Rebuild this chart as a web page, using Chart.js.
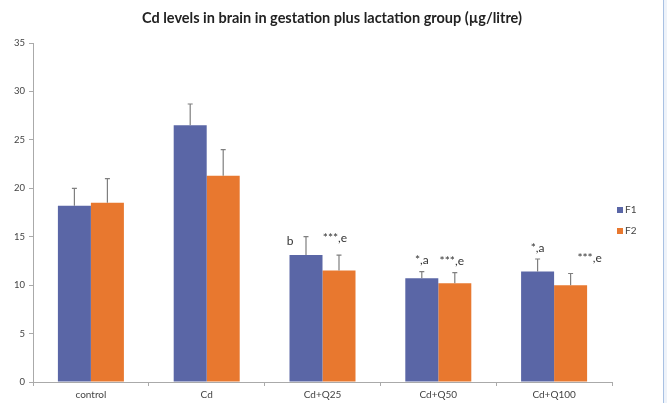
<!DOCTYPE html>
<html>
<head>
<meta charset="utf-8">
<script src="https://cdn.jsdelivr.net/npm/chart.js@4"></script>
<style>
  html, body { margin: 0; padding: 0; background: #eef3fa; }
  #wrap { width: 663px; height: 403px; background: #fff; border-right: 1px solid #a9c1e3; }
  canvas { display: block; }
</style>
</head>
<body>
<div id="wrap"><canvas id="grafico" width="663" height="403"></canvas></div>
<script>
const categories = ['control', 'Cd', 'Cd+Q25', 'Cd+Q50', 'Cd+Q100']
const f1Values = [18.2, 26.5, 13.1, 10.7, 11.4]
const f1Errors = [1.8, 2.2, 1.9, 0.7, 1.3]
const f2Values = [18.5, 21.3, 11.5, 10.2, 10.0]
const f2Errors = [2.5, 2.7, 1.6, 1.1, 1.2]
const f1Marks = ['', '', 'b', '*,a', '*,a']
const f2Marks = ['', '', '***,e', '***,e', '***,e']
const yMax = 35
const yStep = 5
const chartTitle = 'Cd levels in brain in gestation plus lactation group (µg/litre)'

const FONT = 'Lato, "Open Sans", sans-serif'
const blue = '#5a66a6'
const orange = '#e8782f'

// little nudges for the significance letters (dx, dy in px)
const markNudge = {
    '0-2': [-16, 15], '1-2': [-4, -6],
    '0-3': [0, 0], '1-3': [-3, 0],
    '0-4': [0, 0], '1-4': [19, -4]
}

const extras = {
    id: 'extras',
    afterDatasetsDraw(chart) {
        const ctx = chart.ctx
        const y = chart.scales.y
        const errs = [f1Errors, f2Errors]
        const marks = [f1Marks, f2Marks]
        ctx.save()
        chart.data.datasets.forEach((ds, di) => {
            const meta = chart.getDatasetMeta(di)
            meta.data.forEach((bar, i) => {
                const top = y.getPixelForValue(ds.data[i] + errs[di][i])
                const base = y.getPixelForValue(ds.data[i])
                ctx.strokeStyle = '#7f7f7f'
                ctx.lineWidth = 1.2
                ctx.beginPath()
                ctx.moveTo(bar.x, base)
                ctx.lineTo(bar.x, top)
                ctx.moveTo(bar.x - 2.5, top)
                ctx.lineTo(bar.x + 2.5, top)
                ctx.stroke()
                const txt = marks[di][i]
                if (txt) {
                    const n = markNudge[di + '-' + i] || [0, 0]
                    ctx.fillStyle = '#333'
                    ctx.font = '12px ' + FONT
                    ctx.textAlign = 'center'
                    ctx.textBaseline = 'middle'
                    ctx.fillText(txt, bar.x + n[0], top - 11 + n[1])
                }
            })
        })
        // title, centred on the whole picture
        ctx.fillStyle = '#222'
        ctx.font = 'bold 14.5px ' + FONT
        ctx.textAlign = 'center'
        ctx.textBaseline = 'middle'
        ctx.fillText(chartTitle, 332, 18)
        // legend on the right
        ctx.font = '10px ' + FONT
        ctx.textAlign = 'left'
        chart.data.datasets.forEach((ds, di) => {
            const ly = 210 + di * 21
            ctx.fillStyle = ds.backgroundColor
            ctx.fillRect(617, ly - 3, 6, 6)
            ctx.fillStyle = '#444'
            ctx.fillText(ds.label, 625, ly)
        })
        ctx.restore()
    }
}

const ctx = document.getElementById('grafico')

new Chart(ctx, {
    type: 'bar',
    data: {
        labels: categories,
        datasets: [
            { label: 'F1', data: f1Values, backgroundColor: blue },
            { label: 'F2', data: f2Values, backgroundColor: orange }
        ]
    },
    options: {
        responsive: false,
        animation: false,
        devicePixelRatio: 1,
        layout: { padding: { left: 0, right: 51, top: 43, bottom: 0 } },
        datasets: { bar: { barPercentage: 1, categoryPercentage: 0.57 } },
        plugins: {
            legend: { display: false },
            tooltip: { enabled: false },
            title: { display: false }
        },
        scales: {
            x: {
                grid: { display: true, drawOnChartArea: false, offset: true, tickLength: 4, color: '#aaa' },
                border: { color: '#aaa' },
                ticks: { color: '#444', font: { family: FONT, size: 10 }, padding: 3 },
                afterFit(scale) { scale.height = 21 }
            },
            y: {
                min: 0,
                max: yMax,
                ticks: { stepSize: yStep, color: '#444', font: { family: FONT, size: 9.5 }, padding: 4 },
                grid: { display: true, drawOnChartArea: false, tickLength: 4, color: '#aaa' },
                border: { color: '#aaa' },
                afterFit(scale) { scale.width = 33 }
            }
        }
    },
    plugins: [extras]
})
</script>
</body>
</html>
